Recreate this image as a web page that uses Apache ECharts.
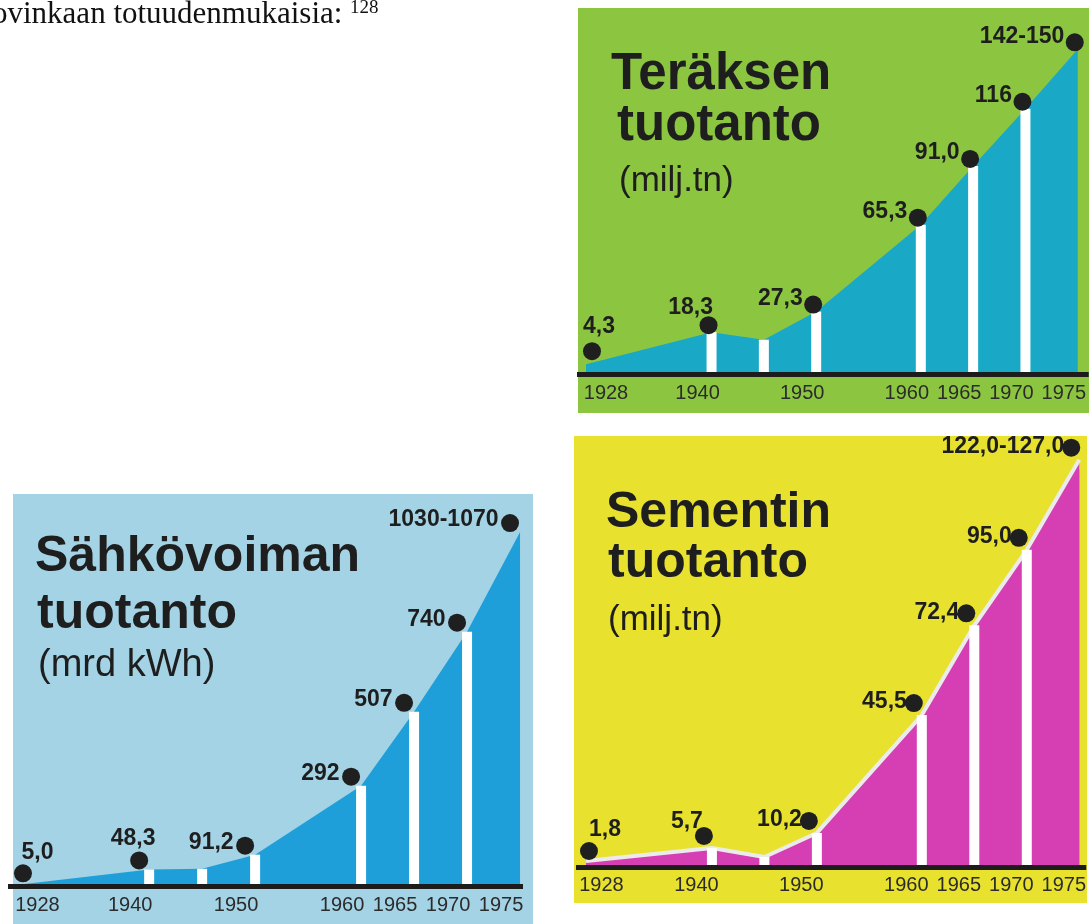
<!DOCTYPE html>
<html><head><meta charset="utf-8">
<script src="https://cdn.jsdelivr.net/npm/echarts@6/dist/echarts.min.js"></script>
<style>html,body{margin:0;padding:0;background:#fff}#c{width:1089px;height:924px}</style>
</head><body><div id="c"></div>
<script>
// ---- data ----
const years = [1928, 1940, 1945, 1950, 1960, 1965, 1970, 1975];
const tickYears = [1928, 1940, 1950, 1960, 1965, 1970, 1975];
const barYears = [1940, 1945, 1950, 1960, 1965, 1970];
const steelValues = [4.3, 18.3, 15, 27.3, 65.3, 91.0, 116, 142];
const steelLabels = ['4,3', '18,3', '', '27,3', '65,3', '91,0', '116', '142-150'];
const cementValues = [1.8, 5.7, 3.0, 10.2, 45.5, 72.4, 95.0, 122];
const cementLabels = ['1,8', '5,7', '', '10,2', '45,5', '72,4', '95,0', '122,0-127,0'];
const powerValues = [5.0, 48.3, 50, 91.2, 292, 507, 740, 1030];
const powerLabels = ['5,0', '48,3', '', '91,2', '292', '507', '740', '1030-1070'];
const steelTitle = ['Teräksen', 'tuotanto', '(milj.tn)'];
const cementTitle = ['Sementin', 'tuotanto', '(milj.tn)'];
const powerTitle = ['Sähkövoiman', 'tuotanto', '(mrd kWh)'];
const pageText = 'ovinkaan totuudenmukaisia:';
const pageNote = '128';

const FONT = "'Liberation Sans', Arial, Helvetica, sans-serif";
const INK = '#1e1e1e';

const panels = [
  { values: steelValues, labels: steelLabels,
    grid: { left: 577, right: 0, top: 31, bottom: 550 }, xMin: 1927.14, xMax: 1976.05, yMax: 150,
    area: '#19a9c6', line: { width: 0 },
    dotOffset: [-3, -7], firstOff: [6, -13],
    firstLabel: { position: 'top', distance: 4, offset: [7, 0] },
    secondLabel: { position: 'top', distance: 0, offset: [-18, 3] },
    restLabel: { distance: 1.5, offset: [0, -6] },
    tick: { l: 20, r: 14, margin: 9 } },
  { values: cementValues, labels: cementLabels,
    grid: { left: 576, right: 2, top: 433, bottom: 57 }, xMin: 1927.05, xMax: 1975.67, yMax: 130,
    area: '#d63fb4', line: { width: 4, color: '#ebebeb' },
    dotOffset: [-8, -12], firstOff: [3, -10],
    firstLabel: { position: 'top', distance: 1, offset: [16, 0] },
    secondLabel: { position: 'top', distance: 0, offset: [-17, 6] },
    restLabel: { distance: -2, offset: [0, -1] },
    tick: { l: 15.5, r: 15.5, margin: 8.5 }, strip: '#e2583a' },
  { values: powerValues, labels: powerLabels,
    grid: { left: 8, right: 566, top: 508, bottom: 38 }, xMin: 1926.68, xMax: 1975.28, yMax: 1100,
    area: '#1e9fda', line: { width: 0 },
    dotOffset: [-10, -9], firstOff: [1, -11],
    firstLabel: { position: 'top', distance: 0.5, offset: [14.5, 0] },
    secondLabel: { position: 'top', distance: 1.5, offset: [-6, 0] },
    restLabel: { distance: 2.5, offset: [0, -3] },
    tick: { l: 15.5, r: 19, margin: 9 } }
];

const grids = [], xAxes = [], yAxes = [], series = [];
panels.forEach((p, i) => {
  grids.push(Object.assign({ containLabel: false, show: false }, p.grid));
  xAxes.push({
    type: 'value', gridIndex: i, min: p.xMin, max: p.xMax, z: 10,
    splitLine: { show: false }, axisTick: { show: false },
    axisLine: { show: true, onZero: false, lineStyle: { color: '#1c1c1c', width: 5, cap: 'butt' } },
    axisLabel: {
      customValues: tickYears, margin: p.tick.margin, color: '#2b2b2b',
      fontFamily: FONT, fontSize: 20,
      formatter: v => (v === tickYears[0] ? '{l|' + v + '}' : '{r|' + v + '}'),
      rich: {
        l: { padding: [0, 0, 0, 2 * p.tick.l], fontFamily: FONT, fontSize: 20, color: '#2b2b2b' },
        r: { padding: [0, 2 * p.tick.r, 0, 0], fontFamily: FONT, fontSize: 20, color: '#2b2b2b' }
      }
    }
  });
  yAxes.push({ type: 'value', gridIndex: i, min: 0, max: p.yMax, show: false, splitLine: { show: false } });

  const pts = years.map((y, k) => [y, p.values[k]]);
  const lineSeries = {
    type: 'line', xAxisIndex: i, yAxisIndex: i, data: pts, symbol: 'none', silent: true,
    lineStyle: p.line, areaStyle: { color: p.area, opacity: 1 }, z: 2
  };
  if (p.strip) {
    const last = years.length - 1;
    lineSeries.markArea = {
      silent: true, itemStyle: { color: p.strip, opacity: 1 },
      data: [[{ xAxis: years[last] - 0.65, yAxis: 0 }, { xAxis: years[last], yAxis: p.values[last] - 3 }]]
    };
  }
  series.push(lineSeries);

  series.push({
    type: 'bar', xAxisIndex: i, yAxisIndex: i, silent: true, z: 3,
    data: barYears.map(y => [y, p.values[years.indexOf(y)]]),
    barWidth: 10, itemStyle: { color: '#ffffff' }
  });

  const dots = [];
  years.forEach((y, k) => { if (p.labels[k]) dots.push({ value: [y, p.values[k]], name: p.labels[k] }); });
  dots[0].symbolOffset = p.firstOff;
  dots[0].label = p.firstLabel;
  dots[1].label = p.secondLabel;
  series.push({
    type: 'scatter', xAxisIndex: i, yAxisIndex: i, data: dots, silent: true, clip: false, z: 4,
    symbol: 'circle', symbolSize: 18, symbolOffset: p.dotOffset,
    itemStyle: { color: '#1f1f1f', opacity: 1 },
    label: {
      show: true, position: 'left', distance: p.restLabel.distance, offset: p.restLabel.offset,
      formatter: q => q.name, fontFamily: FONT, fontSize: 23, fontWeight: 'bold', color: INK
    }
  });
});

function txt(x, y, text, font, color) {
  return { type: 'text', x: x, y: y, silent: true,
    style: { text: text, font: font, fill: color || INK, align: 'left', verticalAlign: 'middle',
             textAlign: 'left', textVerticalAlign: 'middle' } };
}

const graphics = [
  { type: 'rect', silent: true, shape: { x: 578, y: 8, width: 511, height: 405 }, style: { fill: '#8cc641' } },
  { type: 'rect', silent: true, shape: { x: 574, y: 436, width: 513, height: 467 }, style: { fill: '#e8e22e' } },
  { type: 'rect', silent: true, shape: { x: 13, y: 494, width: 520, height: 430 }, style: { fill: '#a3d3e5' } },
  txt(-8, 14.5, pageText, "31px 'Liberation Serif', 'Times New Roman', serif", '#111'),
  txt(350, 7.6, pageNote, "19px 'Liberation Serif', 'Times New Roman', serif", '#111'),
  txt(611, 75.3, steelTitle[0], "bold 51px " + FONT),
  txt(617, 126.3, steelTitle[1], "bold 51px " + FONT),
  txt(619, 180.9, steelTitle[2], "35px " + FONT),
  txt(606, 513.7, cementTitle[0], "bold 50px " + FONT),
  txt(608, 563.7, cementTitle[1], "bold 50px " + FONT),
  txt(608, 619.9, cementTitle[2], "35px " + FONT),
  txt(35, 557.7, powerTitle[0], "bold 50px " + FONT),
  txt(37, 614.7, powerTitle[1], "bold 50px " + FONT),
  txt(38, 665.8, powerTitle[2], "38px " + FONT)
];

const chart = echarts.init(document.getElementById('c'), null, { renderer: 'canvas', width: 1089, height: 924 });
chart.setOption({
  animation: false,
  backgroundColor: '#ffffff',
  graphic: { elements: graphics },
  grid: grids, xAxis: xAxes, yAxis: yAxes, series: series
});
</script></body></html>
